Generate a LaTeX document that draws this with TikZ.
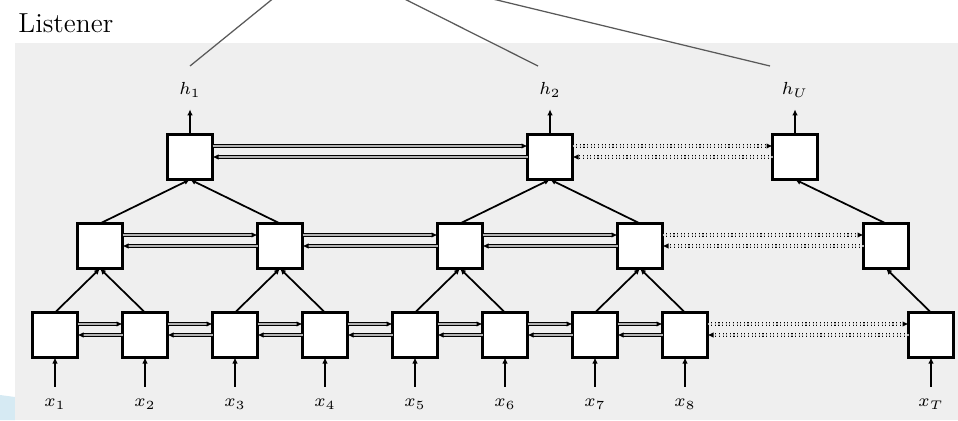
\documentclass[tikz,border=0pt]{standalone}
\usepackage{tikz}
\usetikzlibrary{positioning, arrows.meta, calc}

\definecolor{panel}{RGB}{239,239,239}
\definecolor{swoosh}{RGB}{214,234,243}

\begin{document}
\begin{tikzpicture}[
    x=0.4pt, y=-0.4pt,
    on grid,
    cell/.style={
        draw,
        fill=white,
        line width=0.9pt,
        minimum size=18pt,
        inner sep=0pt,
        outer sep=0pt
    },
    ptr/.style={
        -{Latex[length=2.4pt, width=2.2pt]},
        line width=0.7pt
    },
    link/.style={
        -{Latex[length=2.4pt, width=2.2pt]},
        double=black!30,
        double distance=0.45pt,
        line width=0.45pt
    },
    gap/.style={
        link,
        densely dotted
    },
    lbl/.style={
        font=\scriptsize,
        inner sep=1pt
    },
    attn/.style={
        draw=black!65,
        line width=0.5pt
    }
]

    \clip (0,0) rectangle (958,420);

    % Panel
    \fill[swoosh] (0,395) -- (15,397) -- (15,420) -- (0,420) -- cycle;
    \fill[panel] (15,43) rectangle (958,420);
    \node[anchor=base west, inner sep=0pt, font=\fontsize{11}{13}\selectfont] (title) at (18,32) {Listener};

    % Bottom layer
    \node[cell] (b1) at (55,335) {};
    \node[cell, right=36pt of b1] (b2) {};
    \node[cell, right=36pt of b2] (b3) {};
    \node[cell, right=36pt of b3] (b4) {};
    \node[cell, right=36pt of b4] (b5) {};
    \node[cell, right=36pt of b5] (b6) {};
    \node[cell, right=36pt of b6] (b7) {};
    \node[cell, right=36pt of b7] (b8) {};
    \node[cell] (bT) at (931,335) {};

    % Middle layer
    \node[cell] (m1) at ($(b1)!0.5!(b2)+(0,-89)$) {};
    \node[cell, right=72pt of m1] (m2) {};
    \node[cell, right=72pt of m2] (m3) {};
    \node[cell, right=72pt of m3] (m4) {};
    \node[cell] (mU) at (886,246) {};

    % Top layer
    \node[cell] (t1) at ($(m1)!0.5!(m2)+(0,-89)$) {};
    \node[cell] (t2) at ($(m3)!0.5!(m4)+(0,-89)$) {};
    \node[cell] (tV) at (795,157) {};

    % Inputs
    \node[lbl, below=27.6pt of b1] (x1) {$x_1$};
    \node[lbl, below=27.6pt of b2] (x2) {$x_2$};
    \node[lbl, below=27.6pt of b3] (x3) {$x_3$};
    \node[lbl, below=27.6pt of b4] (x4) {$x_4$};
    \node[lbl, below=27.6pt of b5] (x5) {$x_5$};
    \node[lbl, below=27.6pt of b6] (x6) {$x_6$};
    \node[lbl, below=27.6pt of b7] (x7) {$x_7$};
    \node[lbl, below=27.6pt of b8] (x8) {$x_8$};
    \node[lbl, below=27.6pt of bT] (xT) {$x_T$};
    \foreach \i in {1,...,8,T}
        \draw[ptr, shorten <=3.6pt] (x\i.north) -- (b\i.south);

    % Outputs
    \node[lbl, above=26.8pt of t1] (h1) {$h_1$};
    \node[lbl, above=26.8pt of t2] (h2) {$h_2$};
    \node[lbl, above=26.8pt of tV] (hU) {$h_U$};
    \draw[ptr, shorten >=3.6pt] (t1.north) -- (h1.south);
    \draw[ptr, shorten >=3.6pt] (t2.north) -- (h2.south);
    \draw[ptr, shorten >=3.6pt] (tV.north) -- (hU.south);

    % Pyramid connections
    \draw[ptr] (b1.north) -- (m1.south);
    \draw[ptr] (b2.north) -- (m1.south);
    \draw[ptr] (b3.north) -- (m2.south);
    \draw[ptr] (b4.north) -- (m2.south);
    \draw[ptr] (b5.north) -- (m3.south);
    \draw[ptr] (b6.north) -- (m3.south);
    \draw[ptr] (b7.north) -- (m4.south);
    \draw[ptr] (b8.north) -- (m4.south);
    \draw[ptr] (bT.north) -- (mU.south);
    \draw[ptr] (m1.north) -- (t1.south);
    \draw[ptr] (m2.north) -- (t1.south);
    \draw[ptr] (m3.north) -- (t2.south);
    \draw[ptr] (m4.north) -- (t2.south);
    \draw[ptr] (mU.north) -- (tV.south);

    % Forward and backward links
    \foreach \a/\b in {b1/b2, b2/b3, b3/b4, b4/b5, b5/b6, b6/b7, b7/b8, m1/m2, m2/m3, m3/m4, t1/t2} {
        \draw[link] ([yshift=4.4pt]\a.east) -- ([yshift=4.4pt]\b.west);
        \draw[link] (\b.west) -- (\a.east);
    }
    \foreach \a/\b in {b8/bT, m4/mU, t2/tV} {
        \draw[gap] ([yshift=4.4pt]\a.east) -- ([yshift=4.4pt]\b.west);
        \draw[gap] (\b.west) -- (\a.east);
    }

    % Lines up to the attention part
    \coordinate (att) at (323,-42);
    \coordinate (a1) at (190,66);
    \coordinate (a2) at (538,66);
    \coordinate (a3) at (770,66);
    \draw[attn] (a1) -- (att);
    \draw[attn] (a2) -- (att);
    \draw[attn] (a3) -- (att);

\end{tikzpicture}
\end{document}
